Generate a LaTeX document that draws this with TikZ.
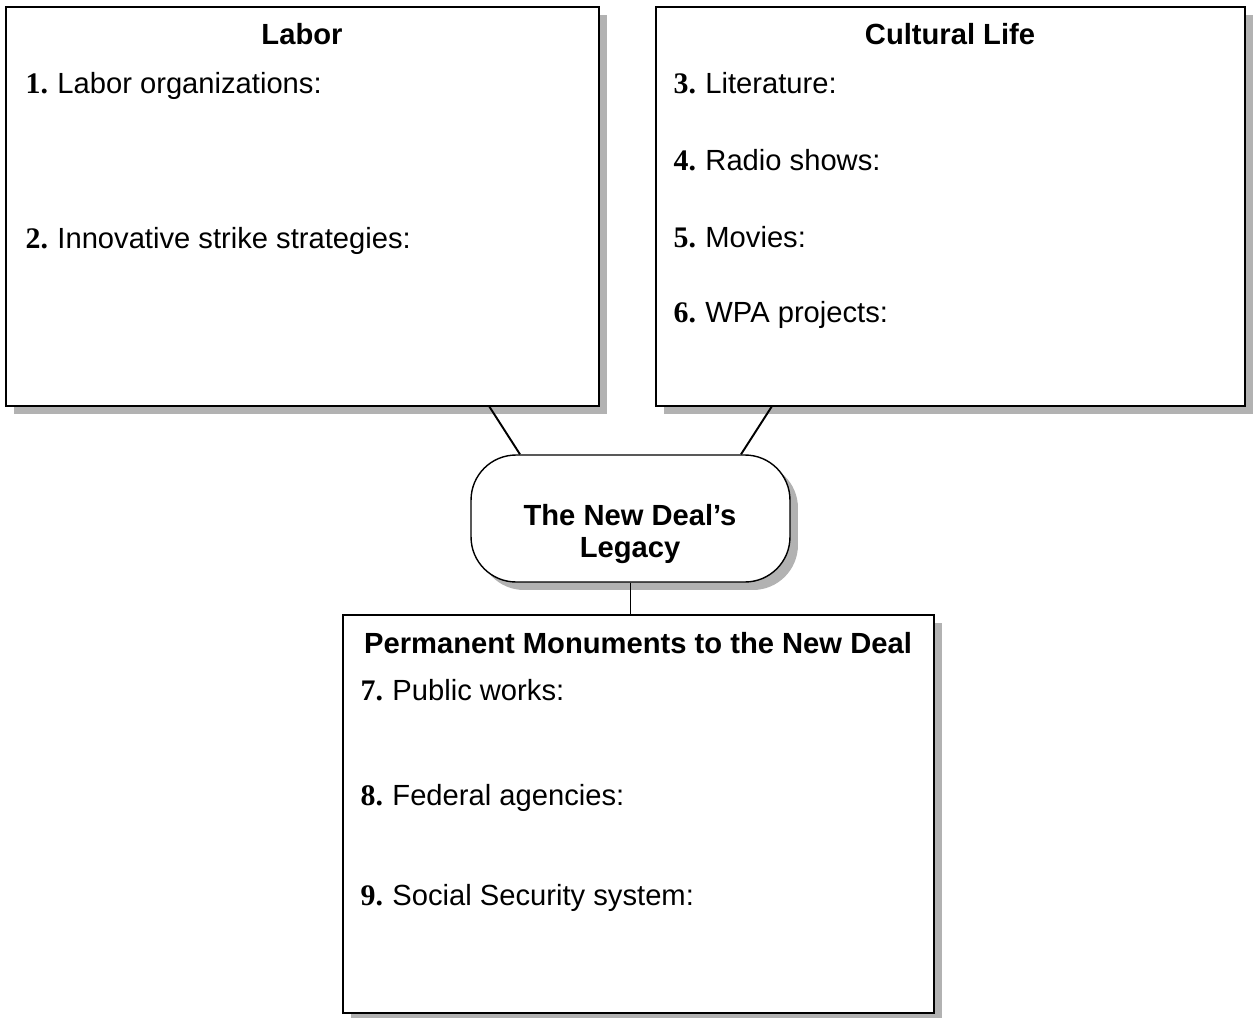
\documentclass[tikz,border=0pt]{standalone}
\usepackage{fontspec}
\setmainfont{Liberation Sans}
\newfontfamily\numfont{Liberation Serif}
\usetikzlibrary{shadows,calc}
\newcommand{\num}[1]{{\numfont\bfseries\fontsize{17}{19}\selectfont #1.}\hspace{0.32em}}
\begin{document}
\begin{tikzpicture}[x=0.02cm, y=-0.02cm, line width=0.8pt,
box node/.style={rectangle,draw=black,fill=white,inner sep=0pt,drop shadow={shadow xshift=0.16cm,shadow yshift=-0.16cm,fill=black!30,opacity=1}},
title node/.style={font=\fontsize{16.6}{19}\selectfont\bfseries,anchor=base,inner sep=0pt},
item node/.style={font=\fontsize{16.6}{19}\selectfont,anchor=base west,inner sep=0pt}]%
\useasboundingbox (0,0) rectangle (1253,1017);
\begin{scope}%boxes
\node[box node,minimum width=11.86cm,minimum height=7.98cm] (labor) at (302.5,206.5) {};
\node[box node,minimum width=11.78cm,minimum height=7.98cm] (culture) at (950.5,206.5) {};
\node[box node,rounded corners=0.9cm,minimum width=6.38cm,minimum height=2.54cm] (legacy) at (630.5,518.5) {};
\node[box node,minimum width=11.82cm,minimum height=7.96cm] (monument) at (638.5,814) {};
\end{scope}
\begin{scope}[line width=1.1pt]%connectors
\draw ($(labor.south west)!0.8145!(labor.south east)$) -- ($(legacy.north west)!0.155!(legacy.north east)$);
\draw ($(culture.south west)!0.197!(culture.south east)$) -- ($(legacy.north west)!0.845!(legacy.north east)$);
\draw (legacy.south) -- (legacy.south |- monument.north);
\end{scope}
\begin{scope}%texts
\node[title node] (labtitle) at (302,45) {Labor};
\node[item node] (lab1) at (25,93) {\num{1}Labor organizations:};
\node[item node] (lab2) at (25,248) {\num{2}Innovative strike strategies:};
\node[title node] (cultitle) at (950,45) {Cultural Life};
\node[item node] (cul3) at (673,93) {\num{3}Literature:};
\node[item node] (cul4) at (673,170) {\num{4}Radio shows:};
\node[item node] (cul5) at (673,247) {\num{5}Movies:};
\node[item node] (cul6) at (673,322) {\num{6}WPA projects:};
\node[title node] (legtitle1) at (630,525) {The New Deal’s};
\node[title node] (legtitle2) at (630,557) {Legacy};
\node[title node] (montitle) at (638,653) {Permanent Monuments to the New Deal};
\node[item node] (mon7) at (360,700) {\num{7}Public works:};
\node[item node] (mon8) at (360,805) {\num{8}Federal agencies:};
\node[item node] (mon9) at (360,905) {\num{9}Social Security system:};
\end{scope}
\end{tikzpicture}
\end{document}
